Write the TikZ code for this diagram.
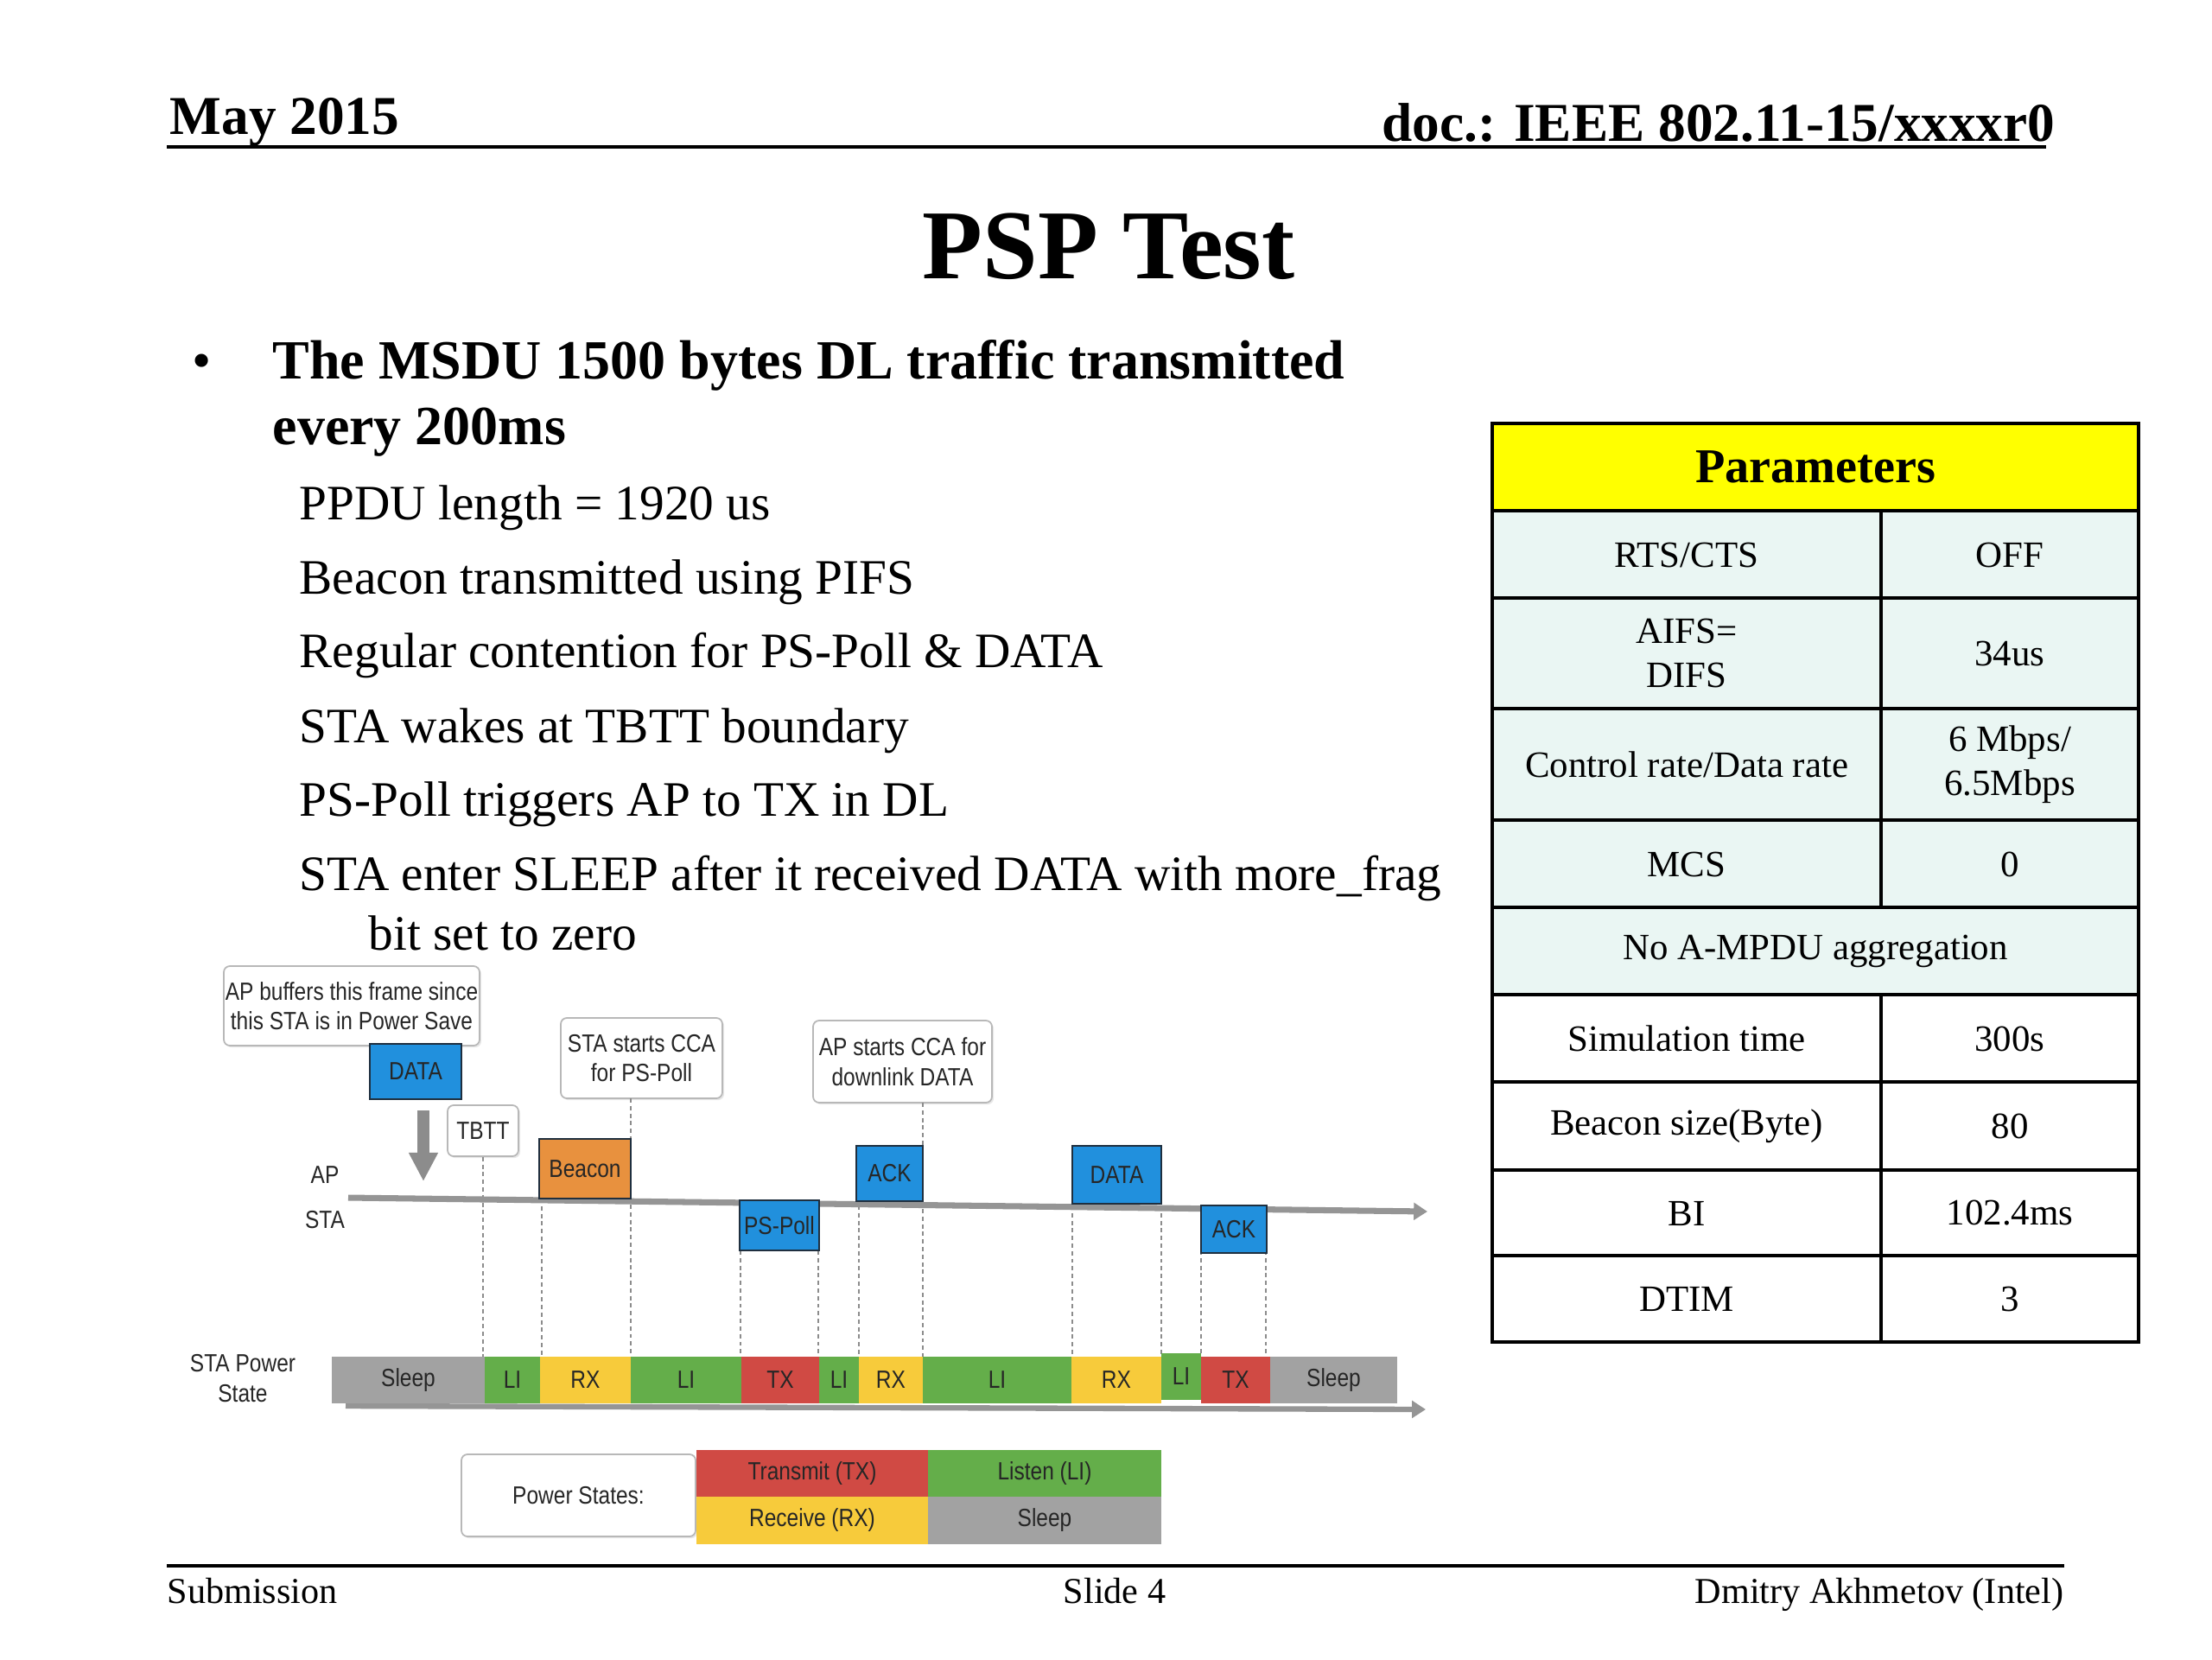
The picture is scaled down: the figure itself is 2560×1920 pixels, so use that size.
\documentclass[tikz,border=0pt]{standalone}
\usepackage{fontspec}
\setmainfont{Liberation Serif}
\newfontfamily\diag[FakeStretch=0.85]{Liberation Sans}
\usetikzlibrary{arrows.meta,shadows}
\definecolor{cblue}{HTML}{2190DD}
\definecolor{cborder}{HTML}{1F2F3F}
\definecolor{corange}{HTML}{E8913E}
\definecolor{cred}{HTML}{D04A44}
\definecolor{cgreen}{HTML}{64AE4A}
\definecolor{cyellow}{HTML}{F7CB3B}
\definecolor{cgray}{HTML}{A2A2A2}
\definecolor{ctext}{HTML}{262626}
\definecolor{cline}{HTML}{959595}
\definecolor{ccyan}{HTML}{EAF6F3}
\definecolor{cyel}{HTML}{FFFF00}
\newcommand\pseg[5]{\node[segbox, fill=#4, rect={#1}{1570}{#2}{1624}] (#5) {#3};}
\begin{document}
\begin{tikzpicture}[x=0.01cm,y=-0.01cm,
  rect/.style n args={4}{minimum width={(#3-#1)*0.01cm}, minimum height={(#4-#2)*0.01cm},
     at={({(#1+#3)/2},{(#2+#4)/2})}},
  dtxt/.style={font=\diag\fontsize{8.2}{9.8}\selectfont, text=ctext},
  frame/.style={draw=cborder, line width=0.5pt, fill=cblue, inner sep=0, dtxt},
  callout/.style={draw=black!28, line width=0.5pt, rounded corners=2pt, fill=white, inner sep=0, dtxt, align=center,
     drop shadow={opacity=0.18, shadow xshift=0.6pt, shadow yshift=-0.6pt}},
  segbox/.style={inner sep=0, dtxt},
  vline/.style={draw=black!45, dash pattern=on 1.4pt off 1.1pt, line width=0.35pt},
  cell/.style={font=\fontsize{12.2}{14.5}\selectfont, align=center, inner sep=0},
  hdr/.style={inner sep=0, font=\bfseries\fontsize{18.2}{20}\selectfont},
  sub/.style={anchor=base west, inner sep=0, font=\fontsize{16.3}{19}\selectfont},
  foot/.style={inner sep=0, font=\fontsize{12}{14}\selectfont},
  garrow/.style={-{Triangle[length=4.5pt,width=5.5pt]}, draw=cline, line width=2pt}
]
\useasboundingbox (0,0) rectangle (2560,1920);
\fill[white] (0,0) rectangle (2560,1920);

% header
\node[hdr, anchor=base west, font=\bfseries\fontsize{18}{20}\selectfont] (date) at (196,155) {May 2015};
\node[hdr, anchor=base east, font=\bfseries\fontsize{18}{20}\selectfont] (doc) at (2379,163) {doc.: IEEE 802.11-15/xxxxr0};
\draw[line width=1pt] (193,170) -- (2368,170);
\node[anchor=base, inner sep=0, font=\bfseries\fontsize{32.5}{36}\selectfont] (title) at (1283,322) {PSP Test};

% bullet text
\node[anchor=base west, inner sep=0, font=\fontsize{18}{20}\selectfont] (bul) at (222,438) {•};
\node[hdr, anchor=base west] (b1) at (315,438) {The MSDU 1500 bytes DL traffic transmitted};
\node[hdr, anchor=base west] (b2) at (315,514) {every 200ms};
\node[sub] (s1) at (346,601) {PPDU length = 1920 us};
\node[sub] (s2) at (346,687) {Beacon transmitted using PIFS};
\node[sub] (s3) at (346,772) {Regular contention for PS-Poll \& DATA};
\node[sub] (s4) at (346,859) {STA wakes at TBTT boundary};
\node[sub] (s5) at (346,944) {PS-Poll triggers AP to TX in DL};
\node[sub] (s6) at (346,1030) {STA enter SLEEP after it received DATA with more\_frag};
\node[sub] (s7) at (426,1099) {bit set to zero};

% table
\fill[cyel] (1727,490) rectangle (2475,591);
\fill[ccyan] (1727,591) rectangle (2475,1151);
\begin{scope}[line width=0.9pt]
\draw (1727,490) rectangle (2475,1553);
\foreach \yy in {591,692,820,949,1050,1151,1252,1354,1453} \draw (1727,\yy) -- (2475,\yy);
\draw (2177,591) -- (2177,1050);
\draw (2177,1151) -- (2177,1553);
\end{scope}
\node[inner sep=0, font=\bfseries\fontsize{16}{18}\selectfont] (thead) at (2101,540) {Parameters};
\node[cell] (t1a) at (1952,642) {RTS/CTS};
\node[cell] (t1b) at (2326,642) {OFF};
\node[cell] (t2a) at (1952,756) {AIFS=\\DIFS};
\node[cell] (t2b) at (2326,756) {34us};
\node[cell] (t3a) at (1952,885) {Control rate/Data rate};
\node[cell] (t3b) at (2326,885) {6 Mbps/\\6.5Mbps};
\node[cell] (t4a) at (1952,1000) {MCS};
\node[cell] (t4b) at (2326,1000) {0};
\node[cell] (t5) at (2101,1101) {No A-MPDU aggregation};
\node[cell] (t6a) at (1952,1202) {Simulation time};
\node[cell] (t6b) at (2326,1202) {300s};
\node[cell] (t7a) at (1952,1303) {Beacon size(Byte)};
\node[cell] (t7b) at (2326,1303) {80};
\node[cell] (t8a) at (1952,1404) {BI};
\node[cell] (t8b) at (2326,1404) {102.4ms};
\node[cell] (t9a) at (1952,1503) {DTIM};
\node[cell] (t9b) at (2326,1503) {3};

% footer
\draw[line width=1.1pt] (193,1812) -- (2389,1812);
\node[foot, anchor=base west] (fsub) at (193,1855) {Submission};
\node[foot, anchor=base] (fslide) at (1290,1855) {Slide 4};
\node[foot, anchor=base east] (fauth) at (2389,1855) {Dmitry Akhmetov (Intel)};

% ---------------- diagram ----------------
\coordinate (bartop) at (0,1570);
\node[callout, rect={259}{1118}{555}{1210}] (buf) {AP buffers this frame since\\this STA is in Power Save};
\node[frame, rect={428}{1208}{534}{1272}] (data0) {DATA};
\coordinate (arrS) at (490,1285);
\coordinate (arrE) at (490,1367);
\draw[-{Triangle[length=9.4pt,width=9pt]}, draw=black!45, line width=3.7pt] (arrS) -- (arrE);
\node[callout, rect={518}{1279}{600}{1338}] (tbtt) {TBTT};
\node[callout, rect={649}{1178}{836}{1271}] (stacca) {STA starts CCA\\for PS-Poll};
\node[callout, rect={941}{1181}{1148}{1276}] (apcca) {AP starts CCA for\\downlink DATA};
\node[dtxt, inner sep=0] (aplab) at (376,1360) {AP};
\node[dtxt, inner sep=0] (stalab) at (376,1412) {STA};
\node[dtxt, inner sep=0, align=center] (pwlab) at (281,1595) {STA Power\\State};

% dashed guide lines
\draw[vline] (tbtt.south) -- (tbtt.south |- bartop);
\draw[vline] (627,1387) coordinate (bl) -- (bl |- bartop);
\draw[vline] (730,1271) coordinate (br) -- (br |- bartop);
\draw[vline] (857,1447) coordinate (pl) -- (pl |- bartop);
\draw[vline] (947,1447) coordinate (pr) -- (pr |- bartop);
\draw[vline] (994,1395) coordinate (al) -- (al |- bartop);
\draw[vline] (1068,1276) coordinate (ar) -- (ar |- bartop);
\draw[vline] (1241,1395) coordinate (dl) -- (dl |- bartop);
\draw[vline] (1344,1395) coordinate (dr) -- (dr |- bartop);
\draw[vline] (1390,1447) coordinate (kl) -- (kl |- bartop);
\draw[vline] (1465,1447) coordinate (kr) -- (kr |- bartop);

% AP/STA timeline
\coordinate (tlS) at (403,1386);
\coordinate (tlE) at (1652,1402);
\draw[garrow] (tlS) -- (tlE);
\node[frame, fill=corange, rect={624}{1318}{730}{1387}] (beacon) {Beacon};
\node[frame, rect={856}{1389}{948}{1447}] (pspoll) {PS-Poll};
\node[frame, rect={991}{1326}{1068}{1390}] (ack1) {ACK};
\node[frame, rect={1241}{1326}{1344}{1393}] (data1) {DATA};
\node[frame, rect={1390}{1395}{1466}{1450}] (ack2) {ACK};

% power state bar
\coordinate (pbS) at (400,1627);
\coordinate (pbE) at (1650,1631);
\draw[garrow, line width=1.8pt] (pbS) -- (pbE);
\pseg{384}{561}{Sleep}{cgray}{p1}
\pseg{561}{625}{LI}{cgreen}{p2}
\pseg{625}{730}{RX}{cyellow}{p3}
\pseg{730}{858}{LI}{cgreen}{p4}
\pseg{858}{948}{TX}{cred}{p5}
\pseg{948}{994}{LI}{cgreen}{p6}
\pseg{994}{1068}{RX}{cyellow}{p7}
\pseg{1068}{1240}{LI}{cgreen}{p8}
\pseg{1240}{1344}{RX}{cyellow}{p9}
\node[segbox, fill=cgreen, rect={1344}{1566}{1390}{1620}] (p10) {LI};
\pseg{1390}{1470}{TX}{cred}{p11}
\pseg{1470}{1617}{Sleep}{cgray}{p12}

% legend
\node[callout, rect={534}{1683}{805}{1778}] (pslab) {Power States:};
\node[segbox, fill=cred, rect={806}{1678}{1074}{1732}] (lgtx) {Transmit (TX)};
\node[segbox, fill=cgreen, rect={1074}{1678}{1344}{1732}] (lgli) {Listen (LI)};
\node[segbox, fill=cyellow, rect={806}{1732}{1074}{1787}] (lgrx) {Receive (RX)};
\node[segbox, fill=cgray, rect={1074}{1732}{1344}{1787}] (lgsl) {Sleep};
\end{tikzpicture}
\end{document}
